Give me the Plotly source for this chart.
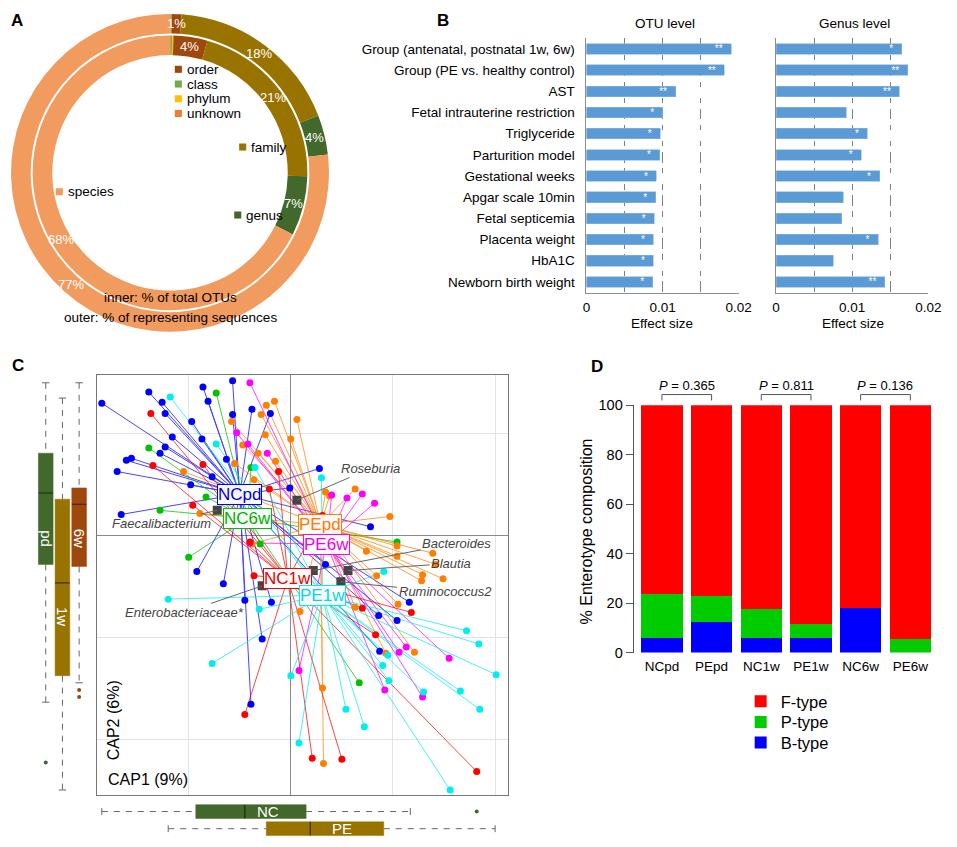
import math
import plotly.graph_objects as go

W, H = 957, 847
FONT = "Liberation Sans, Arial, sans-serif"


def px(p):
    return p / W


def py(p):
    return 1 - p / H


# ---------------- Panel A data ----------------
taxa_levels = ["unknown", "class", "phylum", "order", "family", "genus", "species"]
level_colors = ["#ED7D31", "#70AD47", "#FFC000", "#9E480E", "#997300", "#43682B", "#F29B5E"]
inner_pct = [0.1, 0.15, 0.15, 4, 21, 7, 67.6]      # % of total OTUs
outer_pct = [0.05, 0.05, 0.05, 1, 18, 4, 76.85]    # % of representing sequences
inner_text = ["", "", "", "4%", "21%", "7%", "68%"]
outer_text = ["", "", "", "1%", "18%", "4%", "77%"]

# ---------------- Panel B data ----------------
factors = ["Group (antenatal, postnatal 1w, 6w)", "Group (PE vs. healthy control)", "AST",
           "Fetal intrauterine restriction", "Triglyceride", "Parturition model",
           "Gestational weeks", "Apgar scale 10min", "Fetal septicemia", "Placenta weight",
           "HbA1C", "Newborn birth weight"]
otu_effect = [0.0190, 0.0181, 0.0117, 0.0100, 0.0097, 0.0096, 0.0092, 0.0091, 0.0089, 0.0088, 0.0088, 0.0087]
otu_sig = ["**", "**", "**", "*", "*", "*", "*", "*", "*", "*", "*", "*"]
genus_effect = [0.0165, 0.0173, 0.0162, 0.0092, 0.0120, 0.0112, 0.0136, 0.0088, 0.0086, 0.0134, 0.0075, 0.0143]
genus_sig = ["*", "**", "**", "", "*", "*", "*", "", "", "*", "", "**"]
effect_ticks = [0, 0.005, 0.01, 0.015, 0.02]
effect_ticktext = ["0", "", "0.01", "", "0.02"]

# ---------------- Panel C data ----------------
group_names = ["NCpd", "NC6w", "PEpd", "PE6w", "NC1w", "PE1w"]
group_colors = ["#0000FF", "#00C000", "#FF8000", "#FF00FF", "#FF0000", "#00EEEE"]
group_text_colors = ["#0000DD", "#00B000", "#FF7A00", "#EE00EE", "#EE0000", "#00D8E8"]
centroid_x = [-0.50, -0.42, 0.29, 0.35, -0.03, 0.31]
centroid_y = [0.41, 0.17, 0.11, -0.08, -0.42, -0.58]

ncpd_pts = [(-1.85, 1.30), (-1.39, 1.41), (-1.26, 1.31), (-1.23, 1.20), (-0.86, 1.46), (-0.81, 1.32),
            (-0.57, 1.52), (-0.57, 1.19), (-0.38, 1.24), (-0.20, 1.20), (-0.97, 1.12), (-1.16, 0.97),
            (-1.23, 0.87), (-1.28, 0.81), (-1.61, 0.74), (-1.56, 0.76), (-1.70, 0.63), (-0.98, 0.50),
            (-1.66, 0.21), (-0.63, 0.75), (-0.87, 0.95), (-0.92, -0.35), (-0.66, -0.47), (-0.01, 0.47),
            (0.28, 0.66), (0.78, 0.09), (0.34, -0.28), (1.16, -0.65), (0.86, -0.78), (1.04, -0.83),
            (0.87, -1.13), (-0.45, -0.63), (-0.19, -0.65), (-0.28, -1.01), (-0.39, -1.65), (-0.77, 0.58)]
nc6w_pts = [(-0.73, 1.40), (-1.39, 0.86), (-1.28, 0.25), (-1.00, -0.21), (-0.83, 0.38), (-0.39, 0.67),
            (1.04, -0.06), (0.67, -1.44), (-0.30, -0.08)]
pepd_pts = [(-0.24, 1.28), (-0.16, 1.32), (-0.29, 1.19), (-0.58, 1.12), (-0.25, 0.99), (-0.47, 0.89),
            (0.06, 1.14), (0.00, 0.95), (-0.32, 0.81), (-0.15, 0.73), (-0.55, 0.71), (-1.05, 0.63),
            (-0.89, 0.22), (-0.36, 0.55), (0.34, 0.43), (0.38, 0.39), (0.63, 0.46), (0.97, 0.19),
            (1.04, -0.10), (0.74, -0.15), (1.04, -0.20), (1.39, -0.17), (1.42, -0.28), (1.29, -0.38),
            (1.49, -0.42), (1.28, -0.44), (0.84, -0.39), (1.05, -0.67), (0.63, -0.70), (1.21, -1.14),
            (0.93, -1.15), (0.31, -1.49), (0.32, -2.23), (0.09, -0.74), (-0.38, -0.08)]
pe6w_pts = [(-0.40, 1.50), (-0.53, 1.01), (-0.42, 0.90), (-0.23, 0.81), (0.40, 0.40), (0.55, 0.37),
            (0.70, 0.41), (0.82, 0.32), (1.13, -1.09), (1.06, -1.14), (1.55, -1.20), (0.92, -1.51),
            (1.29, -1.58), (0.08, -1.32), (-0.40, -0.07)]
nc1w_pts = [(-1.37, 1.20), (-1.35, 0.69), (-0.86, 0.70), (-0.96, 0.30), (-0.12, 0.63), (-0.36, -0.39),
            (-0.40, -0.06), (0.70, -0.71), (1.18, -0.75), (0.83, -0.97), (-0.45, -1.75), (0.21, -2.18),
            (0.50, -2.19), (1.82, -2.31), (-0.21, 0.46), (0.31, 0.20)]
pe1w_pts = [(-1.18, 1.36), (-0.73, 0.90), (-0.35, 0.67), (0.30, 0.57), (0.91, -0.35), (1.72, -0.93),
            (1.84, -1.06), (2.01, -1.36), (0.95, -1.17), (0.90, -1.27), (0.96, -1.42), (1.30, -1.53),
            (1.66, -1.52), (1.85, -1.70), (0.54, -1.70), (0.72, -1.87), (1.56, -2.49), (-1.20, -0.62),
            (-0.31, -0.72), (-0.77, -1.25), (0.00, -1.37), (0.08, -2.03)]
group_pts = [ncpd_pts, nc6w_pts, pepd_pts, pe6w_pts, nc1w_pts, pe1w_pts]

taxa_names = ["Faecalibacterium", "Roseburia", "Bacteroides", "Blautia", "Ruminococcus2", "Enterobacteriaceae*"]
taxa_x = [-0.72, 0.06, 0.22, 0.56, 0.49, -0.28]
taxa_y = [0.25, 0.35, -0.34, -0.34, -0.45, -0.49]
taxa_label_x = [-1.27, 0.78, 1.625, 1.57, 1.51, -1.04]
taxa_label_y = [0.125, 0.66, -0.07, -0.27, -0.55, -0.75]

# CAP2 by time point (left box plots)
time_labels = ["pd", "1w", "6w"]
time_colors = ["#43682B", "#997300", "#9E480E"]
cap2_lo = [-1.63, -2.49, -1.44]
cap2_q1 = [-0.28, -1.37, -0.30]
cap2_med = [0.42, -0.46, 0.31]
cap2_q3 = [0.81, 0.36, 0.47]
cap2_hi = [1.50, 1.35, 1.50]
cap2_outliers = [[-2.22], [], [-1.51, -1.58]]
time_label_y = [-0.03, -0.79, -0.02]
# CAP1 by group (bottom box plots)
status_labels = ["NC", "PE"]
status_colors = ["#43682B", "#997300"]
cap1_lo = [-1.85, -1.20]
cap1_q1 = [-0.93, -0.24]
cap1_med = [-0.45, 0.19]
cap1_q3 = [0.15, 0.91]
cap1_hi = [1.17, 2.00]
cap1_outliers = [[1.82], []]
status_label_x = [-0.22, 0.5]

# ---------------- Panel D data ----------------
groups_d = ["NCpd", "PEpd", "NC1w", "PE1w", "NC6w", "PE6w"]
b_type = [5.9, 12.5, 5.9, 5.7, 18.1, 0.0]
p_type = [17.7, 10.5, 11.7, 5.7, 0.0, 5.5]
f_type = [100 - b - p for b, p in zip(b_type, p_type)]
p_values = ["0.365", "0.811", "0.136"]

fig = go.Figure()
ann = []
shapes = []


def text(x, y, t, size=13.5, color="#000", xanchor="center", yanchor="middle", **kw):
    ann.append(dict(x=x, y=y, text=t, xref=kw.pop("xref", "paper"), yref=kw.pop("yref", "paper"),
                    showarrow=False, xanchor=xanchor, yanchor=yanchor,
                    font=dict(family=FONT, size=size, color=color), **kw))


# ================= Panel A =================
cxA, cyA, rO = 169, 168, 162
ring_w = 20
rI = rO - ring_w - 2
fig.add_trace(go.Pie(values=outer_pct, labels=taxa_levels, sort=False, direction="clockwise", rotation=0,
                     hole=(rO - ring_w) / rO, marker=dict(colors=level_colors, line=dict(width=0)),
                     textinfo="none", showlegend=False, hoverinfo="skip",
                     domain=dict(x=[px(cxA - rO), px(cxA + rO)], y=[py(cyA + rO), py(cyA - rO)])))
fig.add_trace(go.Pie(values=inner_pct, labels=taxa_levels, sort=False, direction="clockwise", rotation=0,
                     hole=(rI - ring_w) / rI, marker=dict(colors=level_colors, line=dict(width=0)),
                     textinfo="none", showlegend=False, hoverinfo="skip",
                     domain=dict(x=[px(cxA - rI), px(cxA + rI)], y=[py(cyA + rI), py(cyA - rI)])))


def ring_labels(vals, labels, r_mid):
    tot = sum(vals)
    acc = 0
    for v, lab in zip(vals, labels):
        mid = (acc + v / 2) / tot * 2 * math.pi
        acc += v
        if lab:
            text(px(cxA + r_mid * math.sin(mid)), py(cyA - r_mid * math.cos(mid)), lab, size=13, color="white")


ring_labels(outer_pct, outer_text, rO - ring_w / 2)
ring_labels(inner_pct, inner_text, rI - ring_w / 2)

# data-label style legend entries (square centre position in px)
legend_a = [("order", 3, 177.5, 62.5), ("class", 1, 177.5, 77.5), ("phylum", 2, 177.5, 92.5),
            ("unknown", 0, 177.5, 107.5), ("family", 4, 243, 141.7), ("genus", 5, 238, 211),
            ("species", 6, 56.3, 187.3)]
for name, ci, lx, ly in legend_a:
    shapes.append(dict(type="rect", xref="paper", yref="paper", x0=px(lx - 3.6), x1=px(lx + 3.6),
                       y0=py(ly + 3.6), y1=py(ly - 3.6), fillcolor=level_colors[ci],
                       line=dict(width=0)))
    text(px(lx + 6.5), py(ly), name, size=13.5, xanchor="left")
text(px(170), py(295), "inner: % of total OTUs")
text(px(170), py(315), "outer: % of representing sequences")

# ================= Panel B =================
for vals, sig, xa, ya in [(otu_effect, otu_sig, "x", "y"), (genus_effect, genus_sig, "x2", "y2")]:
    fig.add_trace(go.Bar(x=vals, y=factors, orientation="h", xaxis=xa, yaxis=ya, width=0.5,
                         marker=dict(color="#5B9BD5", line=dict(color="#8DB8E2", width=0.6)),
                         text=[s + "\u00a0\u00a0" if s else "" for s in sig], textposition="inside",
                         insidetextanchor="end", textangle=0, constraintext="none",
                         textfont=dict(color="white", size=10, family=FONT),
                         showlegend=False, hoverinfo="skip"))

b_x_common = dict(range=[0, 0.02], tickvals=effect_ticks, ticktext=effect_ticktext, showgrid=True,
                  gridcolor="#7F7F7F", griddash="5.4px,10.8px,5.4px", gridwidth=1, zeroline=False,
                  showline=True, linecolor="#8C8C8C", ticks="", ticklabelstandoff=2,
                  tickfont=dict(size=13.5, family=FONT))
b_y_common = dict(domain=[py(290), py(31)], range=[11.5, -0.5], type="category", categoryorder="array",
                  categoryarray=factors, showline=True, linecolor="#8C8C8C", ticks="", showgrid=False)
text(px(673), py(16), "OTU level")
text(px(866), py(16), "Genus level")
text(px(670), py(322), "Effect size")
text(px(864), py(322), "Effect size")

# ================= Panel C =================
for pts, cx, cy, col in zip(group_pts, centroid_x, centroid_y, group_colors):
    xs, ys = [], []
    for (x, y) in pts:
        xs += [cx, x, None]
        ys += [cy, y, None]
    fig.add_trace(go.Scatter(x=xs, y=ys, mode="lines", line=dict(color=col, width=1), opacity=0.72,
                             xaxis="x3", yaxis="y3", showlegend=False, hoverinfo="skip"))
for pts, col in zip(group_pts, group_colors):
    fig.add_trace(go.Scatter(x=[p[0] for p in pts], y=[p[1] for p in pts], mode="markers",
                             marker=dict(color=col, size=7), xaxis="x3", yaxis="y3",
                             showlegend=False, hoverinfo="skip"))
fig.add_trace(go.Scatter(x=taxa_x, y=taxa_y, mode="markers",
                         marker=dict(symbol="square", color="#444444", size=9),
                         xaxis="x3", yaxis="y3", showlegend=False, hoverinfo="skip"))
for name, tx, ty, lx, ly in zip(taxa_names, taxa_x, taxa_y, taxa_label_x, taxa_label_y):
    ann.append(dict(x=tx, y=ty, ax=lx, ay=ly, xref="x3", yref="y3", axref="x3", ayref="y3",
                    text=f"<i>{name}</i>", showarrow=True, arrowhead=0, arrowwidth=1,
                    arrowcolor="#666666", standoff=0, startstandoff=0,
                    font=dict(family=FONT, size=13, color="#444444")))
for name, cx, cy, col, tcol in zip(group_names, centroid_x, centroid_y, group_colors, group_text_colors):
    ann.append(dict(x=cx, y=cy, xref="x3", yref="y3", text=name, showarrow=False,
                    font=dict(family=FONT, size=17, color=tcol), bgcolor="rgba(255,255,255,0.92)",
                    bordercolor=col, borderwidth=1, borderpad=0))
text(px(111), py(726), "CAP2 (6%)", size=16, textangle=-90)
text(px(104), py(786), "CAP1 (9%)", size=16, xanchor="left")

# left box plots (CAP2 by time point)
for i, lab in enumerate(time_labels):
    c = i + 1
    col = time_colors[i]
    for a, b in [(cap2_hi[i], cap2_q3[i]), (cap2_q1[i], cap2_lo[i])]:
        shapes.append(dict(type="line", xref="x4", yref="y4", x0=c, x1=c, y0=a, y1=b,
                           line=dict(color="#666666", width=1, dash="6px,6px")))
    for v in (cap2_hi[i], cap2_lo[i]):
        shapes.append(dict(type="line", xref="x4", yref="y4", x0=c - 0.22, x1=c + 0.22, y0=v, y1=v,
                           line=dict(color="#666666", width=1)))
    shapes.append(dict(type="rect", xref="x4", yref="y4", x0=c - 0.44, x1=c + 0.44, y0=cap2_q1[i],
                       y1=cap2_q3[i], fillcolor=col, line=dict(color=col, width=0.5)))
    shapes.append(dict(type="line", xref="x4", yref="y4", x0=c - 0.44, x1=c + 0.44, y0=cap2_med[i],
                       y1=cap2_med[i], line=dict(color="rgba(0,0,0,0.6)", width=1.2)))
    if cap2_outliers[i]:
        fig.add_trace(go.Scatter(x=[c] * len(cap2_outliers[i]), y=cap2_outliers[i], mode="markers",
                                 marker=dict(color=col, size=4), xaxis="x4", yaxis="y4",
                                 showlegend=False, hoverinfo="skip"))
    ann.append(dict(x=c, y=time_label_y[i], xref="x4", yref="y4", text=lab, showarrow=False,
                    textangle=90, font=dict(family=FONT, size=15, color="white")))

# bottom box plots (CAP1 by group)
status_pos = [2.0, 0.75]
for i, lab in enumerate(status_labels):
    c = status_pos[i]
    col = status_colors[i]
    for a, b in [(cap1_lo[i], cap1_q1[i]), (cap1_q3[i], cap1_hi[i])]:
        shapes.append(dict(type="line", xref="x5", yref="y5", x0=a, x1=b, y0=c, y1=c,
                           line=dict(color="#666666", width=1, dash="6px,6px")))
    for v in (cap1_lo[i], cap1_hi[i]):
        shapes.append(dict(type="line", xref="x5", yref="y5", x0=v, x1=v, y0=c - 0.25, y1=c + 0.25,
                           line=dict(color="#666666", width=1)))
    shapes.append(dict(type="rect", xref="x5", yref="y5", x0=cap1_q1[i], x1=cap1_q3[i], y0=c - 0.5,
                       y1=c + 0.5, fillcolor=col, line=dict(color=col, width=0.5)))
    shapes.append(dict(type="line", xref="x5", yref="y5", x0=cap1_med[i], x1=cap1_med[i], y0=c - 0.5,
                       y1=c + 0.5, line=dict(color="rgba(0,0,0,0.6)", width=1.2)))
    if cap1_outliers[i]:
        fig.add_trace(go.Scatter(x=cap1_outliers[i], y=[c] * len(cap1_outliers[i]), mode="markers",
                                 marker=dict(color=col, size=4), xaxis="x5", yaxis="y5",
                                 showlegend=False, hoverinfo="skip"))
    ann.append(dict(x=status_label_x[i], y=c, xref="x5", yref="y5", text=lab, showarrow=False,
                    font=dict(family=FONT, size=15, color="white")))

# ================= Panel D =================
legend_rows = {"F-type": ("legend", 707), "P-type": ("legend2", 728), "B-type": ("legend3", 749)}
for name, vals, col in [("B-type", b_type, "#0000FF"), ("P-type", p_type, "#00CC00"), ("F-type", f_type, "#FF0000")]:
    fig.add_trace(go.Bar(x=groups_d, y=vals, name=name, marker=dict(color=col, line=dict(width=0)),
                         width=0.83, xaxis="x6", yaxis="y6", hoverinfo="skip",
                         legend=legend_rows[name][0]))

d_dom = (641, 948)
d_rng = (-0.57, 5.5)


def d_xpx(i):
    return d_dom[0] + (i - d_rng[0]) / (d_rng[1] - d_rng[0]) * (d_dom[1] - d_dom[0])


for k, pv in enumerate(p_values):
    xa, xb = d_xpx(2 * k), d_xpx(2 * k + 1)
    shapes.append(dict(type="path", xref="paper", yref="paper",
                       path=f"M{px(xa)},{py(400)} L{px(xa)},{py(394)} L{px(xb)},{py(394)} L{px(xb)},{py(400)}",
                       line=dict(color="#555555", width=1)))
    text(px((xa + xb) / 2), py(385), f"<i>P</i> = {pv}", size=13)
text(px(593), py(533), "% Enterotype composition", size=16, textangle=-90)

# panel letters
for letter, lx, ly in [("A", 13, 13), ("B", 447, 13), ("C", 14, 364), ("D", 604, 365)]:
    text(px(lx), py(ly), f"<b>{letter}</b>", size=17)

legend_style = dict(x=px(750), xanchor="left", yanchor="middle", font=dict(size=16.5, family=FONT),
                    bgcolor="rgba(0,0,0,0)", itemclick=False, itemdoubleclick=False)

fig.update_layout(
    width=W, height=H, margin=dict(l=0, r=0, t=0, b=0),
    paper_bgcolor="white", plot_bgcolor="white", barmode="stack",
    font=dict(family=FONT, color="#000"),
    showlegend=True,
    legend=dict(y=py(legend_rows["F-type"][1]), **legend_style),
    legend2=dict(y=py(legend_rows["P-type"][1]), **legend_style),
    legend3=dict(y=py(legend_rows["B-type"][1]), **legend_style),
    xaxis=dict(domain=[px(593), px(748)], anchor="y", **b_x_common),
    yaxis=dict(anchor="x", tickfont=dict(size=13.5, family=FONT), ticklabelstandoff=8, **b_y_common),
    xaxis2=dict(domain=[px(786), px(941)], anchor="y2", **b_x_common),
    yaxis2=dict(anchor="x2", showticklabels=False, **b_y_common),
    xaxis3=dict(domain=[px(95), px(513)], range=[-1.894, 2.125], anchor="y3", tickvals=[-1, 0, 1, 2],
                showticklabels=False, showgrid=True, gridcolor="#E3E3E3", zeroline=True,
                zerolinecolor="#8A8A8A", zerolinewidth=1.3, showline=True, mirror=True, linecolor="#777777",
                ticks=""),
    yaxis3=dict(domain=[py(802), py(374)], range=[-2.538, 1.577], anchor="x3", tickvals=[-2, -1, 0, 1],
                showticklabels=False, showgrid=True, gridcolor="#E3E3E3", zeroline=True,
                zerolinecolor="#8A8A8A", zerolinewidth=1.3, showline=True, mirror=True, linecolor="#777777",
                ticks=""),
    xaxis4=dict(domain=[px(25.5), px(93.5)], range=[0, 4], anchor="y4", visible=False),
    yaxis4=dict(domain=[py(802), py(374)], range=[-2.538, 1.577], anchor="x4", visible=False),
    xaxis5=dict(domain=[px(95), px(513)], range=[-1.894, 2.125], anchor="y5", visible=False),
    yaxis5=dict(domain=[py(847), py(805)], range=[0, 3], anchor="x5", visible=False),
    xaxis6=dict(domain=[px(d_dom[0]), px(d_dom[1])], range=list(d_rng), anchor="y6", type="category",
                categoryorder="array", categoryarray=groups_d, showline=False, ticks="",
                ticklabelstandoff=4, tickfont=dict(size=13.5, family=FONT)),
    yaxis6=dict(domain=[py(657), py(405)], range=[0, 100], anchor="x6", tickvals=[0, 20, 40, 60, 80, 100],
                ticks="outside", ticklen=7, tickcolor="#555555", showline=True, linecolor="#555555",
                showgrid=False, zeroline=False, tickfont=dict(size=14.5, family=FONT)),
    annotations=ann,
    shapes=shapes,
)

fig.write_html("out.html", config={"displayModeBar": False},
               post_script="document.body.style.margin='0px';document.body.style.padding='0px';")
